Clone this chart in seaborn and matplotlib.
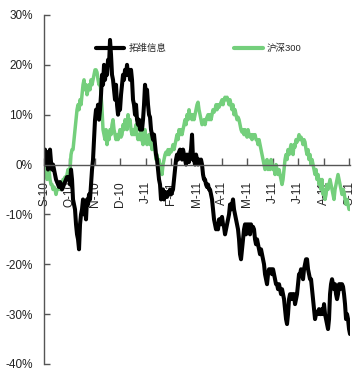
import numpy as np
import pandas as pd
import matplotlib
matplotlib.use("Agg")
import matplotlib.pyplot as plt
import seaborn as sns
from matplotlib.ticker import FuncFormatter

sns.set_theme(style="white")
plt.rcParams['font.family'] = ['Liberation Sans Narrow', 'Liberation Sans', 'Noto Sans CJK SC', 'DejaVu Sans']

# month tick labels
month_labels = ["S-10", "O-10", "N-10", "D-10", "J-11", "F-11", "M-11",
                "A-11", "M-11", "J-11", "J-11", "A-11", "S-11"]

# cumulative return (%) of 拓维信息, one reading per trading-day step
tuowei = [1, 3, 0, 2.5, -1, 0, 3, 0.5, -1, 0, -1, -2, -3, -3.5, -4, -4.5, -3.5, -4, -5, -4.5,
          -4, -3.5, -3, -2.5, -2.5, -2.5, -4, -1, -3, -7, -8, -9, -12, -14, -15, -17, -12, -10,
          -9, -7, -10, -8, -11, -7, -8, -6, -7, -4, -1, 1, 5, 9, 11, 10, 12, 9, 11, 14, 18, 16,
          20, 17, 19, 18, 21, 20, 25, 22, 18, 17, 15, 13, 16, 12, 10, 12, 11, 14, 16, 18, 17,
          19, 18, 20, 18, 19, 17, 19, 17, 13, 12, 10, 12, 9, 8, 9, 7, 8, 7, 9, 12, 16, 14, 15,
          12, 10, 9.5, 7, 6, 5, 6, 4, 2, 1, -1, -3, -4, -7, -6, -5, -7, -5.5, -6, -6.5, -5.5,
          -6, -5, -6, -5.5, -5, -3, -1, 1, 2, 1, 2.5, 3, 2, 1, 3, 2, 1, 0, 2, 1, 0.5, 2, 3, 6,
          1, 1, 0, 2, 1, 0, 1, 0.5, 1, 0, -2, -3, -3, -4, -4.5, -4, -5, -5, -6, -7, -9, -11,
          -12, -13, -12, -13, -11, -12, -11, -10.5, -12, -12.5, -14, -13, -12, -11, -10, -8,
          -9, -8, -7, -9, -10, -11, -12, -13, -15, -18, -19, -17, -15, -13, -12, -14, -12,
          -13, -12, -14, -12, -13, -12.5, -13, -15, -16, -15, -16, -17, -18, -17, -18, -19,
          -20, -22, -23, -24, -22, -21, -21.5, -21, -22, -21, -22, -23, -24, -24, -25, -24,
          -25, -26, -25, -26, -27, -29, -31, -32, -30, -27, -26, -27, -26, -27, -26, -28, -27,
          -26, -24, -22, -22, -21, -22, -23, -21, -20, -19, -19, -21, -22, -23, -23, -25, -27,
          -29, -31, -30, -29.5, -30, -29, -30, -30, -29, -30, -28, -30, -31, -32, -33, -31,
          -26, -24, -23, -24, -25, -24, -26, -27, -26, -24, -25, -24, -24, -24.5, -26, -28,
          -31, -30, -31, -33, -34]

# cumulative return (%) of 沪深300
hs300 = [0, -1, -2, -3, -2, -1, -3, -4, -4, -5, -4.5, -5, -6, -5, -5, -4.5, -5, -5, -4, -3,
         -3, -2.5, -3, -2, -1, -2, -1, 2, 3, 3, 5, 7, 9, 11, 12, 11, 13, 12, 14, 16, 17, 15,
         16, 14, 15, 16, 15, 17, 16, 17, 18, 19, 19, 18.5, 17, 16, 17, 14, 11, 7, 6, 5, 7, 4,
         6, 5, 7, 6, 8, 9, 7, 6, 5, 6, 5, 6, 7, 5.5, 6, 8, 7, 9, 8, 7, 10, 8, 9, 7, 6, 7, 6,
         7, 8, 6, 5, 6, 5, 7, 5, 4, 6, 7, 5, 4, 5, 6, 4, 5, 3, 4, 4, 3, 1, 2, 0, 1, -1, 0, -2,
         0, 1, 2, 2.5, 2, 3, 2, 3, 2.5, 3, 4, 3, 4, 5, 6, 5, 7, 6, 7, 6, 7, 8, 9, 8, 10, 9, 11,
         9.5, 10, 9, 10, 9, 10, 11, 12, 12.5, 11, 10, 9, 8, 8.5, 9, 8, 9, 9.5, 10, 9, 10, 9,
         10, 11, 10.5, 11, 12, 11, 12, 11.5, 12, 12.5, 13, 12, 13, 13.5, 13, 13.5, 13, 12, 13,
         12, 11, 12, 10, 11, 10, 9, 9.5, 9, 8, 7, 6.5, 7, 6, 7, 6, 5.5, 7, 6, 5.5, 6, 5, 6,
         5.5, 6, 5, 5, 4, 5, 4, 3, 2, 1, 0, -1, 0, 1, -1, 0, -1, 1, 0, -1, -0.5, -2, 0, -1, -2,
         -1, -2, -3, -4, -3, -1, 1, 2, 1, 3, 2, 3, 4, 3, 2, 4, 3.5, 5, 4.5, 5, 6, 5, 5.5, 5, 4,
         5, 4.5, 3, 2, 3, 1, 2, 0, 1, 0, -1, -2, -1, -3, -2, -4, -3, -5, -3, -6, -5, -7, -6,
         -4, -5, -4, -3, -4, -5, -6, -7, -5, -4, -3, -2, -3, -4, -5, -6, -5, -5.5, -7, -8, -7,
         -8, -9, -9]

series_names = ["拓维信息", "沪深300"]
colors = ["#000000", "#74CF7C"]

df_t = pd.DataFrame({"day": np.arange(len(tuowei)), "ret": tuowei})
df_h = pd.DataFrame({"day": np.arange(len(hs300)), "ret": hs300})

fig = plt.figure(figsize=(3.55, 3.71), dpi=100)
ax = fig.add_axes([0.124, 0.019, 0.862, 0.9406])

sns.lineplot(data=df_h, x="day", y="ret", ax=ax, color=colors[1], linewidth=2.5,
             label=series_names[1])
sns.lineplot(data=df_t, x="day", y="ret", ax=ax, color=colors[0], linewidth=2.9,
             label=series_names[0])

n = len(tuowei) - 1
ax.set_xlim(0, n)
ax.set_ylim(-40, 30)
ax.set_xlabel("")
ax.set_ylabel("")

for s in ["top", "right"]:
    ax.spines[s].set_visible(False)
ax.spines["bottom"].set_position(("data", 0))
ax.spines["bottom"].set_color("#555555")
ax.spines["left"].set_color("#555555")
ax.spines["bottom"].set_linewidth(1.0)
ax.spines["left"].set_linewidth(1.0)

ax.set_yticks([-40, -30, -20, -10, 0, 10, 20, 30])
ax.yaxis.set_major_formatter(FuncFormatter(lambda v, p: f"{v:.0f}%"))
ax.set_xticks(np.linspace(0, n - 1, len(month_labels)))
ax.set_xticklabels(month_labels)

ax.tick_params(axis="x", direction="in", length=5, width=1, color="#555555",
               pad=12, labelsize=8.5, labelcolor="#222222", bottom=True,
               labelrotation=90)
ax.tick_params(axis="y", direction="in", length=4, width=1, color="#555555",
               pad=8, labelsize=8.5, labelcolor="#222222", left=True)

h, l = ax.get_legend_handles_labels()
leg = ax.legend([h[1], h[0]], [l[1], l[0]], ncol=2, frameon=False,
                loc="center", bbox_to_anchor=(0.505, 0.905), fontsize=6.8,
                handlelength=3.0, handletextpad=0.4, columnspacing=7.2)
for line in leg.get_lines():
    line.set_linewidth(3)

fig.savefig("out.png", dpi=100)
